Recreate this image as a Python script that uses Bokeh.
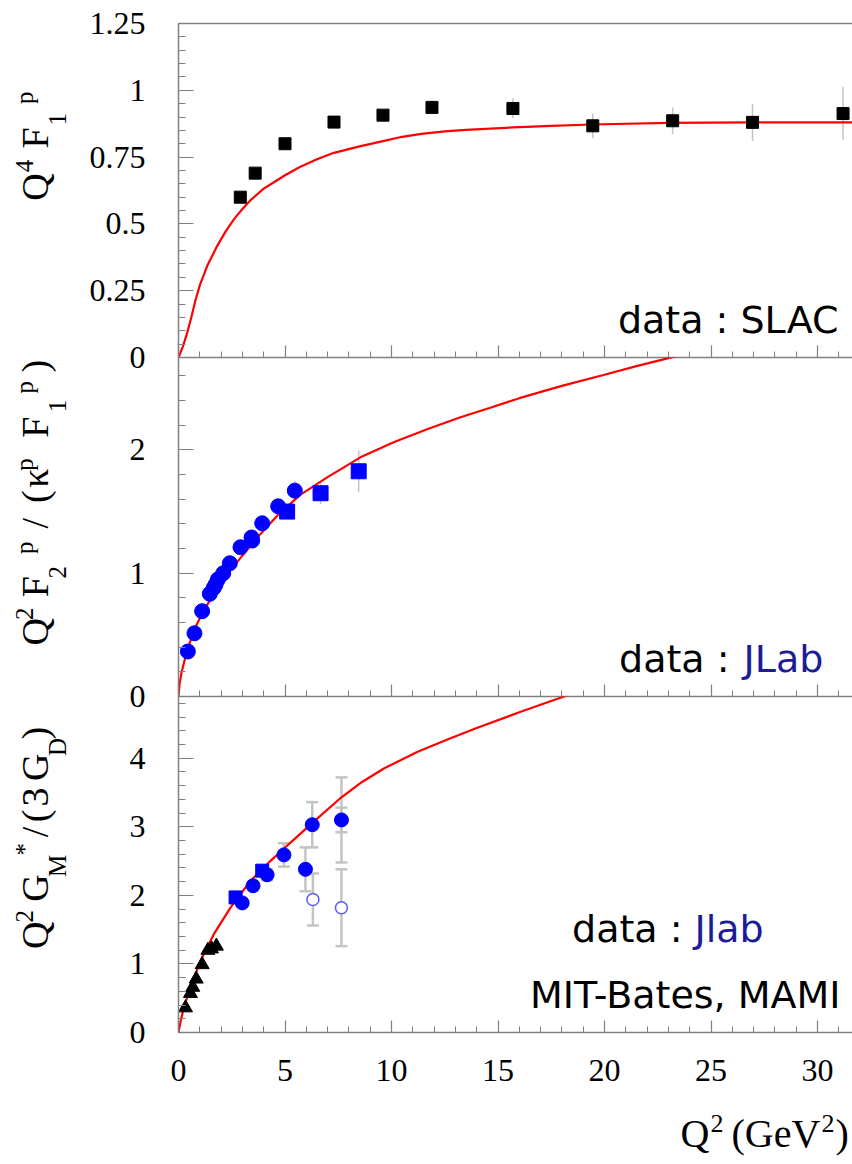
import math
from bokeh.plotting import figure
from bokeh.models import (Range1d, SingleIntervalTicker, CustomJSTickFormatter,
                          LinearAxis, Label, ColumnDataSource, Whisker, TeeHead)
from bokeh.layouts import column, row
from bokeh.embed import file_html
from bokeh.resources import INLINE
from bokeh.core.properties import value

# ---------------- data ----------------
# top panel : Q^4 F1p, SLAC
slac_q2 = [2.9, 3.6, 5.0, 7.3, 9.6, 11.9, 15.7, 19.45, 23.2, 26.95, 31.2]
slac_val = [0.60, 0.69, 0.80, 0.881, 0.907, 0.936, 0.932, 0.867, 0.886, 0.880, 0.913]
slac_err = [0.012, 0.012, 0.014, 0.016, 0.02, 0.025, 0.037, 0.046, 0.05, 0.07, 0.10]
curve1_q2 = [0, 0.2, 0.4, 0.6, 0.8, 1.0, 1.35, 1.8, 2.2, 2.6, 3.0, 3.4, 4.0, 4.5, 5.0, 5.7,
             6.5, 7.3, 8.5, 9.6, 10.5, 11.4, 12.5, 13.5, 15.7, 17.5, 19.4, 23.0, 27.0, 31.7]
curve1_val = [0, 0.04, 0.09, 0.15, 0.215, 0.27, 0.343, 0.415, 0.47, 0.517, 0.556, 0.59, 0.632,
              0.657, 0.682, 0.713, 0.742, 0.766, 0.79, 0.81, 0.826, 0.837, 0.846, 0.852, 0.861,
              0.867, 0.872, 0.878, 0.88, 0.88]

# middle panel : Q^2 F2p / (kappa F1p), JLab
jl_circ_q2 = [0.44, 0.75, 1.11, 1.47, 1.65, 1.74, 1.85, 2.1, 2.41, 2.91, 3.43, 3.46, 3.93, 4.68, 5.46]
jl_circ_val = [0.365, 0.513, 0.692, 0.833, 0.88, 0.908, 0.95, 1.0, 1.081, 1.211, 1.29, 1.265,
               1.405, 1.543, 1.67]
jl_circ_err = [0.01, 0.01, 0.01, 0.01, 0.01, 0.01, 0.01, 0.01, 0.01, 0.02, 0.02, 0.02, 0.03, 0.04, 0.08]
jl_sq_q2 = [5.1, 6.67, 8.46]
jl_sq_val = [1.50, 1.649, 1.827]
jl_sq_err = [0.03, 0.09, 0.17]
curve2_q2 = [0, 0.05, 0.13, 0.25, 0.41, 0.72, 1.14, 1.66, 2.29, 3.07, 3.85, 4.71, 5.73, 6.98,
             8.54, 10.1, 11.7, 13.24, 14.6, 16.0, 18.0, 20.0, 21.5, 23.0, 25.0]
curve2_val = [0, 0.1, 0.184, 0.27, 0.373, 0.535, 0.684, 0.833, 0.995, 1.157, 1.319, 1.48, 1.638,
              1.778, 1.94, 2.062, 2.17, 2.265, 2.34, 2.42, 2.52, 2.61, 2.68, 2.745, 2.83]

# bottom panel : Q^2 G_M* / (3 G_D)
mit_q2 = [0.33, 0.56, 0.67, 0.83, 1.11, 1.38, 1.55, 1.78]
mit_val = [0.36, 0.57, 0.66, 0.78, 0.99, 1.20, 1.22, 1.26]
jb_sq_q2 = [2.68, 3.93]
jb_sq_val = [1.97, 2.36]
jb_circ_q2 = [2.99, 3.5, 4.16, 4.95, 5.96, 6.28, 7.65]
jb_circ_val = [1.89, 2.14, 2.30, 2.59, 2.38, 3.03, 3.10]
jb_circ_err = [0.04, 0.05, 0.08, 0.17, 0.32, 0.33, 0.62]
jb_inner_q2 = [7.65]
jb_inner_val = [3.10]
jb_inner_err = [0.18]
jb_open_q2 = [6.31, 7.65]
jb_open_val = [1.94, 1.82]
jb_open_err = [0.38, 0.56]
curve3_q2 = [0, 0.1, 0.25, 0.56, 1.03, 1.66, 2.44, 3.38, 4.31, 5.26, 6.3, 7.65, 8.6, 9.64,
             11.2, 12.77, 14.0, 16.0, 18.1, 19.5]
curve3_val = [0, 0.16, 0.364, 0.656, 1.045, 1.434, 1.82, 2.21, 2.50, 2.77, 3.06, 3.43, 3.65,
              3.85, 4.09, 4.29, 4.44, 4.67, 4.9, 5.05]

x_ticks_step = 5
# ---------------------------------------------------------------

LAB_W = 80               # width of the strip holding the rotated y titles
FRAME_LEFT = 178         # page x of the frames' left edge
PAGE_W = 852
AX_COL = "#808080"
SERIF = "Liberation Serif"
HAND = "DejaVu Sans"
RED = "#ff0000"
BLUE = "#0000ff"
NAVY = "#1c1c96"
ERR = "#c4c4c4"
OVER = 20                # overlap between stacked canvases
BASE_K = 0.35            # baseline correction (fraction of font size)

x_range = Range1d(0, (PAGE_W - FRAME_LEFT) / 21.3)


def make_fig(height, y_end, b_top, b_bottom):
    p = figure(width=PAGE_W - LAB_W, height=height, x_range=x_range, y_range=Range1d(0, y_end),
               output_backend="svg", toolbar_location=None,
               min_border_left=FRAME_LEFT - LAB_W, min_border_right=0,
               min_border_top=b_top, min_border_bottom=b_bottom,
               border_fill_color=None, background_fill_color=None,
               outline_line_color=None)
    p.xgrid.visible = False
    p.ygrid.visible = False
    for ax in (p.xaxis[0], p.yaxis[0]):
        ax.axis_line_color = AX_COL
        ax.axis_line_width = 1.5
        ax.major_tick_line_color = AX_COL
        ax.minor_tick_line_color = AX_COL
        ax.major_tick_line_width = 1.2
        ax.minor_tick_line_width = 1.0
        ax.major_tick_out = 0
        ax.minor_tick_out = 0
        ax.major_label_text_font = SERIF
        ax.major_label_text_font_size = "32px"
        ax.major_label_text_color = "black"
    p.yaxis.major_tick_in = 15
    p.yaxis.minor_tick_in = 7
    p.yaxis.major_label_standoff = 33
    p.xaxis.major_tick_in = 12
    p.xaxis.minor_tick_in = 6
    p.xaxis.ticker = SingleIntervalTicker(interval=x_ticks_step, num_minor_ticks=5)
    return p


def text_fig(width, top, height):
    """a bare canvas whose data units are page pixels (y = -page_y)"""
    f = figure(width=width, height=height, x_range=Range1d(0, width),
               y_range=Range1d(-(top + height), -top), x_axis_type=None, y_axis_type=None,
               output_backend="svg", toolbar_location=None, min_border=0,
               border_fill_color=None, background_fill_color=None, outline_line_color=None)
    f.xgrid.visible = False
    f.ygrid.visible = False
    return f


def add_texts(f, pieces, rotated):
    # pieces: (text, x_page, y_page, size); x/y give the wanted baseline start
    for size in sorted(set(pc[3] for pc in pieces)):
        sel = [pc for pc in pieces if pc[3] == size]
        k = BASE_K * size
        if rotated:
            xs = [pc[1] - k for pc in sel]
            ys = [-pc[2] for pc in sel]
        else:
            xs = [pc[1] for pc in sel]
            ys = [-(pc[2] - k) for pc in sel]
        f.text(x=xs, y=ys, text=[pc[0] for pc in sel],
               angle=math.pi / 2 if rotated else 0,
               text_align=value("left"), text_baseline=value("alphabetic"),
               text_font=value(SERIF), text_font_size=value(f"{size}px"), text_color="black")


def hide_labels(ax):
    ax.formatter = CustomJSTickFormatter(code="return ''")
    ax.major_label_text_font_size = "0px"
    ax.major_label_standoff = 0


def flat_label(p, txt, x, yb, size, frame_bottom, color="black", align="left"):
    p.add_layout(Label(x=x - FRAME_LEFT, y=frame_bottom - (yb - BASE_K * size),
                       x_units="screen", y_units="screen",
                       text=txt, text_align=align, text_baseline="alphabetic", text_font=HAND,
                       text_font_size=f"{size}px", text_color=color))


M, S = 38, 25
MX, SUPX, SUBX = 48, 33, 66
HS = 38

# ---------- top ----------
H1 = 23 + 334 + OVER
p1 = make_fig(H1, 1.25, 23, OVER)
p1.yaxis.ticker = SingleIntervalTicker(interval=0.25, num_minor_ticks=5)
p1.yaxis.formatter = CustomJSTickFormatter(code="return String(Number(tick.toFixed(2)))")
hide_labels(p1.xaxis[0])
top_ax = LinearAxis(axis_line_color=AX_COL, axis_line_width=1.5, major_tick_in=0, major_tick_out=0,
                    minor_tick_in=0, minor_tick_out=0,
                    formatter=CustomJSTickFormatter(code="return ''"),
                    major_label_text_font_size="0px", major_label_standoff=0)
p1.add_layout(top_ax, "above")
p1.segment(x0=slac_q2, y0=[v - e for v, e in zip(slac_val, slac_err)],
           x1=slac_q2, y1=[v + e for v, e in zip(slac_val, slac_err)],
           line_color=ERR, line_width=1.5)
p1.line(curve1_q2, curve1_val, line_color=RED, line_width=2.2)
p1.scatter(slac_q2, slac_val, marker="square", size=12, color="black")
fb1 = 357
flat_label(p1, "data : SLAC", 838, 333, HS, fb1, align="right")
l1 = text_fig(LAB_W, 0, H1)
add_texts(l1, [("Q", MX, 200, M), ("4", SUPX, 168, S), ("F", MX, 141, M),
               ("1", SUBX, 115, S), ("p", SUPX, 91, S)], True)

# ---------- middle ----------
T2 = 357
H2 = 339 + OVER
p2 = make_fig(H2, 2.75, 0, OVER)
p2.yaxis.ticker = SingleIntervalTicker(interval=1, num_minor_ticks=5)
hide_labels(p2.xaxis[0])
p2.segment(x0=jl_circ_q2, y0=[v - e for v, e in zip(jl_circ_val, jl_circ_err)],
           x1=jl_circ_q2, y1=[v + e for v, e in zip(jl_circ_val, jl_circ_err)],
           line_color=ERR, line_width=1.5)
p2.segment(x0=jl_sq_q2, y0=[v - e for v, e in zip(jl_sq_val, jl_sq_err)],
           x1=jl_sq_q2, y1=[v + e for v, e in zip(jl_sq_val, jl_sq_err)],
           line_color=ERR, line_width=1.5)
p2.line(curve2_q2, curve2_val, line_color=RED, line_width=2.2)
p2.scatter(jl_circ_q2, jl_circ_val, marker="circle", size=15, color=BLUE)
p2.scatter(jl_sq_q2, jl_sq_val, marker="square", size=15, color=BLUE)
fb2 = 696
flat_label(p2, "data :", 729, 672, HS, fb2, align="right")
flat_label(p2, "JLab", 743, 672, HS, fb2, color=NAVY)
l2 = text_fig(LAB_W, T2, H2)
add_texts(l2, [("Q", MX, 662, M), ("2", SUPX, 635, S), ("F", MX, 611, M),
               ("2", SUBX, 591, S), ("p", SUPX, 565, S), ("/", MX, 538, M),
               ("(", MX, 511, M), ("κ", MX, 495, M), ("p", SUPX, 477, S),
               ("F", MX, 442, M), ("1", SUBX, 415, S), ("p", SUPX, 395, S),
               (")", MX, 373, M)], True)

# ---------- bottom ----------
T3 = 696
H3 = 336 + 70
p3 = make_fig(H3, 4.9, 0, 70)
p3.yaxis.ticker = SingleIntervalTicker(interval=1, num_minor_ticks=5)
p3.xaxis.major_label_standoff = 27


def whisk(p, q2, val, err):
    src = ColumnDataSource(dict(x=q2, lo=[v - e for v, e in zip(val, err)],
                                hi=[v + e for v, e in zip(val, err)]))
    w = Whisker(source=src, base="x", lower="lo", upper="hi", dimension="height",
                line_color=ERR, line_width=2.5,
                upper_head=TeeHead(size=12, line_color=ERR, line_width=2.5),
                lower_head=TeeHead(size=12, line_color=ERR, line_width=2.5))
    p.add_layout(w)


whisk(p3, jb_circ_q2, jb_circ_val, jb_circ_err)
whisk(p3, jb_inner_q2, jb_inner_val, jb_inner_err)
whisk(p3, jb_open_q2, jb_open_val, jb_open_err)
p3.line(curve3_q2, curve3_val, line_color=RED, line_width=2.2)
p3.scatter(mit_q2, mit_val, marker="triangle", size=14, color="black")
p3.scatter(jb_sq_q2, jb_sq_val, marker="square", size=13, color=BLUE)
p3.scatter(jb_circ_q2, jb_circ_val, marker="circle", size=14, color=BLUE)
p3.scatter(jb_open_q2, jb_open_val, marker="circle", size=12, line_color="#5a5aff",
           fill_color="white", line_width=1.5)
fb3 = 1032
flat_label(p3, "data :", 682, 942, HS, fb3, align="right")
flat_label(p3, "Jlab", 694, 942, HS, fb3, color=NAVY)
flat_label(p3, "MIT-Bates, MAMI", 840, 1008, HS, fb3, align="right")
l3 = text_fig(LAB_W, T3, H3)
add_texts(l3, [("Q", MX, 1001, M), ("2", SUPX, 969, S), ("G", MX, 944, M),
               ("M", SUBX, 914, S), ("*", SUPX, 888, S), ("/", MX, 866, M),
               ("(", MX, 848, M), ("3", MX, 829, M), ("G", MX, 798, M),
               ("D", SUBX, 768, S), (")", MX, 748, M)], True)

# ---------- x axis title strip ----------
T4 = T3 + H3
H4 = 58
l4 = text_fig(PAGE_W, T4, H4)
add_texts(l4, [("Q", 680, 1147, 40), ("2", 710, 1132, 26), ("(GeV", 731, 1147, 40),
               ("2", 821, 1132, 26), (")", 835, 1147, 40)], False)

layout = column(row(l1, p1),
                row(l2, p2, margin=(-OVER, 0, 0, 0)),
                row(l3, p3, margin=(-OVER, 0, 0, 0)),
                l4)
open("out.html", "w").write(file_html(layout, INLINE))
